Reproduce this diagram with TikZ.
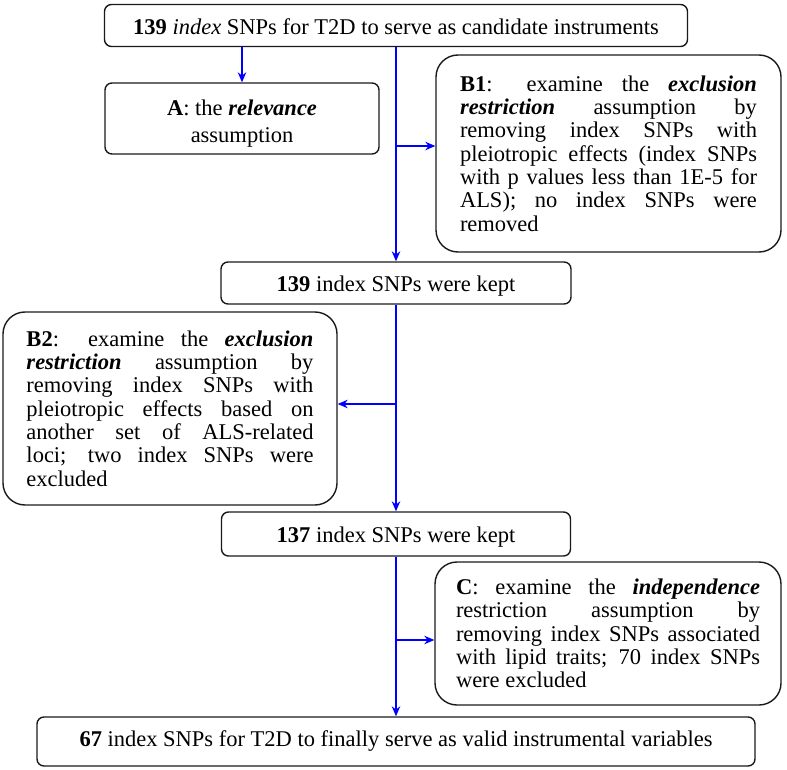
\documentclass[tikz,border=0pt]{standalone}
\usepackage{fontspec}
\setmainfont{Liberation Serif}
\usetikzlibrary{positioning, arrows.meta, calc}
\definecolor{cFLOW}{HTML}{0000FF}
\definecolor{cEDGE}{HTML}{1A1A1A}
\tolerance=10000
\hbadness=10000
\tikzset{
  keptbox/.style={
    draw=cEDGE, line width=1.4pt,
    rounded corners=7pt,
    inner sep=0pt,
    align=center,
    minimum width=#1,
    minimum height=42pt,
    font=\fontsize{22.5}{26.7}\selectfont
  },
  stepbox/.style 2 args={
    draw=cEDGE, line width=1.4pt,
    rounded corners=22pt,
    inner sep=0pt,
    text width=#2,
    align=justify,
    minimum width=#1,
    font=\fontsize{22.5}{23.3}\selectfont
  },
  flow/.style={
    -{Stealth[length=10pt,width=8.5pt]},
    line width=1.2pt,
    draw=cFLOW
  }
}
\newcommand{\bi}[1]{\textbf{\textit{#1}}}

\begin{document}
\begin{tikzpicture}[x=1pt, y=-1pt]
  \useasboundingbox (0,0) rectangle (787,770);

  \node[keptbox=583pt] (top) at (396,25.5) {\rule{0pt}{19pt}\textbf{139} \textit{index} SNPs for T2D to serve as candidate instruments};
  \node[keptbox=274pt, minimum height=71pt] (relA) at (242,118.5) {\rule{0pt}{26pt}\textbf{A}: the \bi{relevance}\\assumption};
  \node[stepbox={345pt}{297pt}, minimum height=197pt] (exclB1) at (608.5,153.5) {\textbf{B1}: examine the \bi{exclusion}\linebreak \bi{restriction} assumption by\linebreak removing index SNPs with\linebreak pleiotropic effects (index SNPs\linebreak with p values less than 1E-5 for\linebreak ALS); no index SNPs were\linebreak removed};
  \node[keptbox=350pt] (kept1) at (396,283) {\rule{0pt}{22pt}\textbf{139} index SNPs were kept};
  \node[stepbox={334pt}{287pt}, minimum height=193pt] (exclB2) at (170,408.5) {\textbf{B2}: examine the \bi{exclusion}\linebreak \bi{restriction} assumption by\linebreak removing index SNPs with\linebreak pleiotropic effects based on\linebreak another set of ALS-related\linebreak loci; two index SNPs were\linebreak excluded};
  \node[keptbox=349pt, minimum height=44pt] (kept2) at (396,534) {\rule{0pt}{21pt}\textbf{137} index SNPs were kept};
  \node[stepbox={346pt}{304pt}, minimum height=143pt] (indepC) at (608,633.5) {\textbf{C}: examine the \bi{independence}\linebreak restriction assumption by\linebreak removing index SNPs associated\linebreak with lipid traits; 70 index SNPs\linebreak were excluded};
  \node[keptbox=718pt, minimum height=49pt] (final) at (396,741.5) {\textbf{67} index SNPs for T2D to finally serve as valid instrumental variables};

  % branch points on the main line
  \coordinate (j1) at (396,146);
  \coordinate (j2) at (396,404);
  \coordinate (j3) at (396,640);

  \draw[flow] (relA.north |- top.south) -- (relA.north);
  \draw[flow] (top) -- (kept1);
  \draw[flow] (kept1) -- (kept2);
  \draw[flow] (kept2) -- (final);
  \draw[flow] (j1) -- (j1 -| exclB1.west);
  \draw[flow] (j2) -- (j2 -| exclB2.east);
  \draw[flow] (j3) -- (j3 -| indepC.west);
\end{tikzpicture}
\end{document}
